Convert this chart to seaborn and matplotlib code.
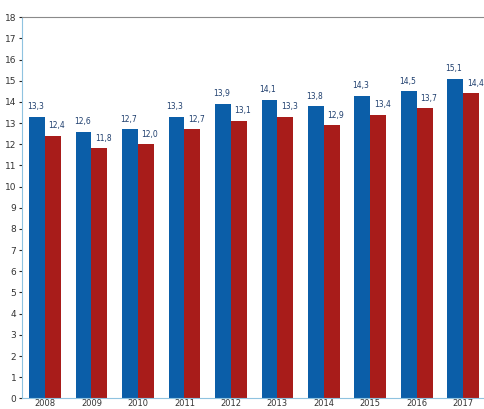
import matplotlib
matplotlib.use("Agg")
import matplotlib.pyplot as plt
import seaborn as sns
import pandas as pd

# data
years = ["2008", "2009", "2010", "2011", "2012", "2013", "2014", "2015", "2016", "2017"]
series_a = [13.3, 12.6, 12.7, 13.3, 13.9, 14.1, 13.8, 14.3, 14.5, 15.1]
series_b = [12.4, 11.8, 12.0, 12.7, 13.1, 13.3, 12.9, 13.4, 13.7, 14.4]
series_names = ["A", "B"]
yticks = list(range(0, 19))

df = pd.DataFrame({
    "year": years * 2,
    "value": series_a + series_b,
    "series": [series_names[0]] * len(years) + [series_names[1]] * len(years),
})

sns.set_style("white")
fig = plt.figure(figsize=(4.84, 4.09), dpi=100)
ax = fig.add_axes([0.045, 0.026, 0.96, 0.932])

sns.barplot(data=df, x="year", y="value", hue="series", order=years,
            palette=["#0b5ea8", "#a81c1a"], width=0.68, gap=0,
            saturation=1, legend=False, linewidth=0, edgecolor="none", ax=ax)

# value labels, comma as decimal sign
for cont, vals, dx in zip(ax.containers, [series_a, series_b], [-1, 3]):
    labs = [f"{v:.1f}".replace(".", ",") for v in vals]
    for bar, lab in zip(cont, labs):
        ax.annotate(lab, (bar.get_x() + bar.get_width() / 2, bar.get_height()),
                    xytext=(dx, 4), textcoords="offset points",
                    ha="center", va="bottom", fontsize=5.5, color="#1f3f6e")

ax.set_ylim(0, 18)
ax.set_xlim(-0.5, 9.5)
ax.set_yticks(yticks)
ax.set_yticklabels([str(t) for t in yticks], fontsize=6.5, color="#333333")
ax.tick_params(axis="x", labelsize=6, colors="#333333", pad=0.5, length=0)
ax.tick_params(axis="y", length=2, pad=2, left=True)
ax.set_xlabel("")
ax.set_ylabel("")

ax.spines["left"].set_color("#8fc3e0")
ax.spines["bottom"].set_color("#8fc3e0")
ax.spines["top"].set_color("#8a8a8a")
ax.spines["right"].set_visible(False)

fig.savefig("out.png", dpi=100)
